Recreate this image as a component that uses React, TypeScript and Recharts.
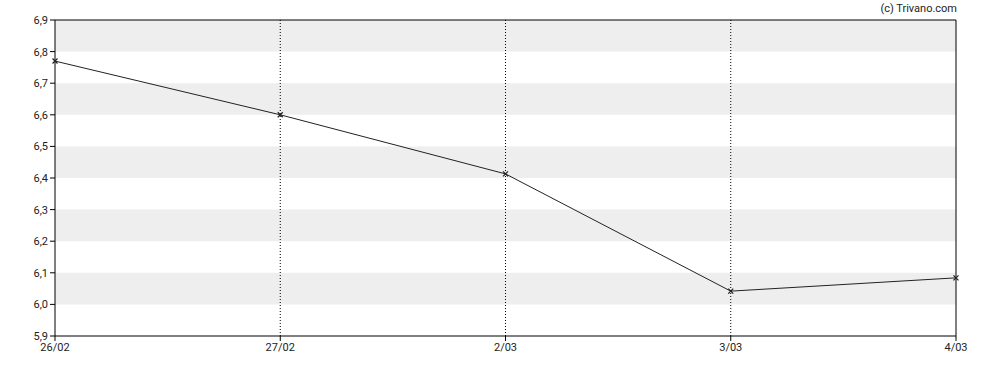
import React from "react";
import {
  LineChart,
  Line,
  XAxis,
  YAxis,
  ReferenceArea,
  ReferenceLine,
} from "recharts";

const categories = ["26/02", "27/02", "2/03", "3/03", "4/03"];
const prices = [6.77, 6.6, 6.413, 6.042, 6.084];
const yTicks = [5.9, 6.0, 6.1, 6.2, 6.3, 6.4, 6.5, 6.6, 6.7, 6.8, 6.9];
const bands: [number, number][] = [
  [6.8, 6.9],
  [6.6, 6.7],
  [6.4, 6.5],
  [6.2, 6.3],
  [6.0, 6.1],
];
const innerDates = ["27/02", "2/03", "3/03"];

const data = categories.map((c, i) => ({ date: c, price: prices[i] }));

const Cross = (props: any) => {
  const { cx, cy } = props;
  if (cx == null || cy == null) return null;
  const s = 2.5;
  return (
    <g stroke="#222" strokeWidth={1.3}>
      <line x1={cx - s} y1={cy - s} x2={cx + s} y2={cy + s} />
      <line x1={cx - s} y1={cy + s} x2={cx + s} y2={cy - s} />
    </g>
  );
};

const fmt = (v: number) => v.toFixed(1).replace(".", ",");

export default function App() {
  return (
    <div style={{ position: "absolute", left: 0, top: 0, width: 988, height: 370, fontFamily: "Roboto, sans-serif" }}>
      <div
        style={{
          position: "absolute",
          right: 31,
          top: 2,
          fontSize: 11,
          color: "#222",
        }}
      >
        (c) Trivano.com
      </div>
      <LineChart
        width={988}
        height={370}
        data={data}
        margin={{ top: 20, right: 32, bottom: 4, left: 0 }}
      >
        {bands.map(([a, b], i) => (
          <ReferenceArea
            key={i}
            y1={a}
            y2={b}
            fill="#eeeeee"
            fillOpacity={1}
            stroke="none"
          />
        ))}
        {innerDates.map((d) => (
          <ReferenceLine key={d} x={d} stroke="#000" strokeDasharray="1 2" />
        ))}
        <XAxis
          dataKey="date"
          stroke="#000"
          tickSize={5}
          tick={{ fill: "#222", fontSize: 11 }}
          tickLine={{ stroke: "#000" }}
          interval={0}
          height={30}
        />
        <YAxis
          domain={[5.9, 6.9]}
          ticks={yTicks}
          tickFormatter={fmt}
          stroke="#000"
          width={55}
          tickSize={5}
          tick={{ fill: "#222", fontSize: 11 }}
          interval={0}
        />
        <ReferenceLine y={6.9} stroke="#000" />
        <ReferenceLine x="4/03" stroke="#000" />
        <Line
          dataKey="price"
          stroke="#222"
          strokeWidth={1}
          dot={<Cross />}
          activeDot={false}
          isAnimationActive={false}
        />
      </LineChart>
    </div>
  );
}
